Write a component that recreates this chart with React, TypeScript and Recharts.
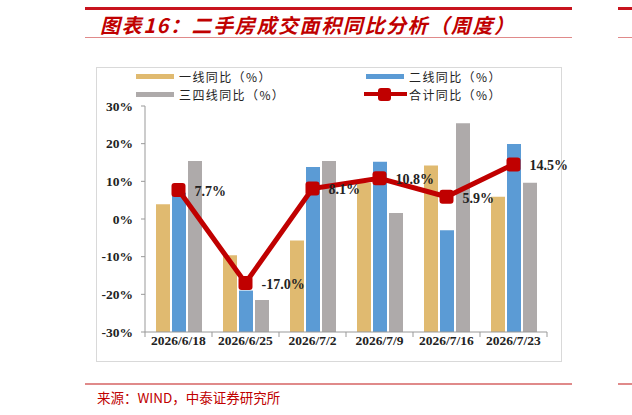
import {
  Bar,
  ComposedChart,
  LabelList,
  Line,
  XAxis,
  YAxis,
} from "recharts";

const weeks = ["2026/6/18", "2026/6/25", "2026/7/2", "2026/7/9", "2026/7/16", "2026/7/23"];
const tier1 = [3.9, -9.6, -5.7, 9.6, 14.2, 5.9];
const tier2 = [7.0, -19.0, 13.8, 15.2, -3.0, 19.9];
const tier34 = [15.4, -21.5, 15.4, 1.6, 25.4, 9.6];
const total = [7.7, -17.0, 8.1, 10.8, 5.9, 14.5];
const yTicks = [-30, -20, -10, 0, 10, 20, 30];
const FLOOR = -30;

const GOLD = "#E0BA70";
const BLUE = "#5B9BD5";
const GRAY = "#AEAAAA";
const RED = "#C00000";
const SERIF = "'Liberation Serif', 'Times New Roman', serif";
const CJK = "'Noto Sans CJK SC', sans-serif";

// bars in the source are drawn up from the bottom of the axis, not from 0
const data = weeks.map((w, i) => ({
  week: w,
  t1: [FLOOR, tier1[i]],
  t2: [FLOOR, tier2[i]],
  t34: [FLOOR, tier34[i]],
  total: total[i],
}));

const BAND = 67;

function XTick(props: any) {
  const { x, y, payload, index } = props;
  const left = x - BAND / 2;
  return (
    <g>
      <line x1={left} y1={y - 8} x2={left} y2={y - 3} stroke="#999" />
      {index === weeks.length - 1 && (
        <line x1={left + BAND} y1={y - 8} x2={left + BAND} y2={y - 3} stroke="#999" />
      )}
      <text
        x={x}
        y={y + 5}
        textAnchor="middle"
        fontFamily={SERIF}
        fontWeight="bold"
        fontSize={13.5}
        fill="#222"
      >
        {payload.value}
      </text>
    </g>
  );
}

function SquareDot(props: any) {
  const { cx, cy } = props;
  if (cx == null || cy == null) return null;
  return <rect x={cx - 7} y={cy - 7} width={14} height={14} rx={3} fill={RED} />;
}

function TotalLabel(props: any) {
  const { x, y, value } = props;
  return (
    <text
      x={x + 16}
      y={y + 6}
      fontFamily={SERIF}
      fontWeight="bold"
      fontSize={14}
      fill="#222"
    >
      {value.toFixed(1)}%
    </text>
  );
}

function LegendItem({ kind, color, label }: { kind: "bar" | "line"; color: string; label: string }) {
  return (
    <div style={{ display: "flex", alignItems: "center", height: 17.5 }}>
      {kind === "bar" ? (
        <div style={{ width: 38, height: 5, background: color, marginRight: 5 }} />
      ) : (
        <div style={{ position: "relative", width: 43, height: 13, marginRight: 2 }}>
          <div style={{ position: "absolute", left: 0, top: 4.5, width: 43, height: 4, background: color }} />
          <div style={{ position: "absolute", left: 14, top: 0, width: 13, height: 13, borderRadius: 3, background: color }} />
        </div>
      )}
      <span
        style={{
          fontFamily: CJK,
          fontSize: 12,
          letterSpacing: 1.4,
          lineHeight: "17px",
          color: "#222",
          whiteSpace: "nowrap",
        }}
      >
        {label}
      </span>
    </div>
  );
}

export default function App() {
  return (
    <div
      style={{
        position: "absolute",
        left: 0,
        top: 0,
        width: 632,
        height: 415,
        background: "#fff",
        overflow: "hidden",
      }}
    >
      {/* header */}
      <div style={{ position: "absolute", left: 85, top: 7, width: 487, height: 3, background: "#C8141E" }} />
      <div style={{ position: "absolute", left: 618, top: 7, width: 14, height: 3, background: "#C8141E" }} />
      <div
        style={{
          position: "absolute",
          left: 100,
          top: 10,
          fontFamily: CJK,
          fontStyle: "italic",
          fontWeight: "bold",
          fontSize: 20,
          letterSpacing: 1.6,
          color: "#C00000",
          whiteSpace: "nowrap",
        }}
      >
        图表16：二手房成交面积同比分析（周度）
      </div>
      <div style={{ position: "absolute", left: 85, top: 37, width: 487, height: 1, background: "#E08A8A" }} />
      <div style={{ position: "absolute", left: 618, top: 37, width: 14, height: 1, background: "#E08A8A" }} />

      {/* chart frame */}
      <div
        style={{
          position: "absolute",
          left: 96,
          top: 67,
          width: 466,
          height: 295,
          border: "1px solid #D9D9D9",
          boxSizing: "border-box",
        }}
      />

      {/* legend */}
      <div style={{ position: "absolute", left: 136, top: 68 }}>
        <LegendItem kind="bar" color={GOLD} label="一线同比（%）" />
        <LegendItem kind="bar" color={GRAY} label="三四线同比（%）" />
      </div>
      <div style={{ position: "absolute", left: 364, top: 68 }}>
        <div style={{ marginLeft: 2 }}>
          <LegendItem kind="bar" color={BLUE} label="二线同比（%）" />
        </div>
        <LegendItem kind="line" color={RED} label="合计同比（%）" />
      </div>

      <div style={{ position: "absolute", left: 0, top: 0 }}>
        <ComposedChart
          width={632}
          height={415}
          data={data}
          margin={{ top: 106, right: 85, bottom: 53, left: 95 }}
          barGap={2}
          barCategoryGap={10}
        >
          <XAxis
            dataKey="week"
            axisLine={{ stroke: "#999" }}
            tickLine={false}
            tick={<XTick />}
            interval={0}
            height={30}
          />
          <YAxis
            domain={[-30, 30]}
            ticks={yTicks}
            axisLine={{ stroke: "#999" }}
            tickLine={{ stroke: "#999" }}
            tickSize={4}
            tickMargin={8}
            tickFormatter={(v: number) => `${v}%`}
            tick={{ fontFamily: SERIF, fontWeight: "bold", fontSize: 13.5, fill: "#222" }}
            width={50}
          />
          <Bar dataKey="t1" fill={GOLD} barSize={14} isAnimationActive={false} />
          <Bar dataKey="t2" fill={BLUE} barSize={14} isAnimationActive={false} />
          <Bar dataKey="t34" fill={GRAY} barSize={14} isAnimationActive={false} />
          <Line
            dataKey="total"
            stroke={RED}
            strokeWidth={5}
            dot={<SquareDot />}
            activeDot={false}
            isAnimationActive={false}
          >
            <LabelList dataKey="total" content={<TotalLabel />} />
          </Line>
        </ComposedChart>
      </div>

      {/* footer */}
      <div style={{ position: "absolute", left: 85, top: 383, width: 487, height: 2, background: "#E08A8A" }} />
      <div style={{ position: "absolute", left: 618, top: 383, width: 14, height: 2, background: "#E08A8A" }} />
      <div
        style={{
          position: "absolute",
          left: 97,
          top: 387,
          fontFamily: CJK,
          fontSize: 13.5,
          color: "#C00000",
          whiteSpace: "nowrap",
        }}
      >
        来源：WIND，中泰证券研究所
      </div>
    </div>
  );
}
